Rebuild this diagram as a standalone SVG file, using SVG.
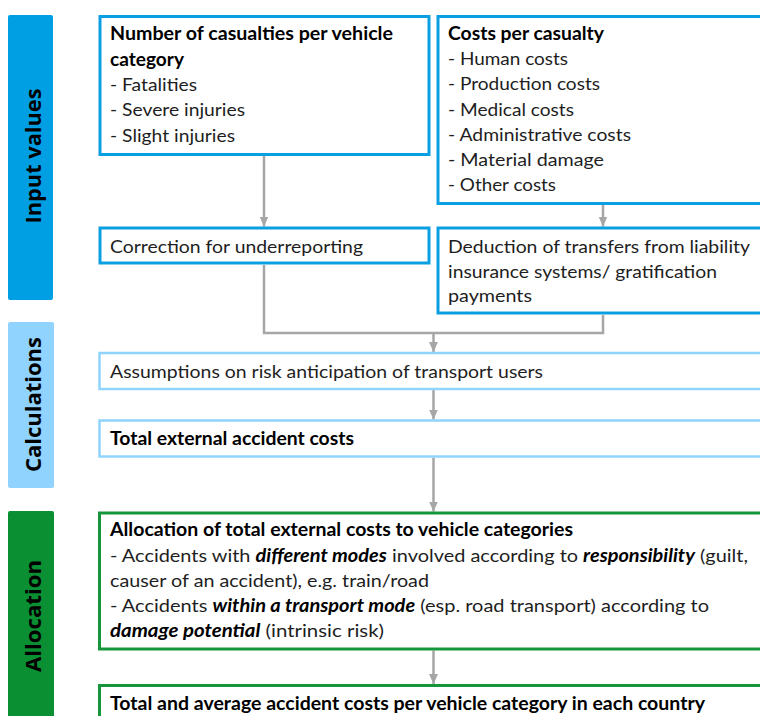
<svg xmlns="http://www.w3.org/2000/svg" width="760" height="716" viewBox="0 0 760 716">
<defs>
<marker id="ah" markerUnits="userSpaceOnUse" markerWidth="10" markerHeight="10" viewBox="0 0 10 10" refX="10" refY="5" orient="auto">
<path d="M0,0.5 L10,5 L0,9.5 Z" fill="#a6a6a6"/>
</marker>
<style>
.bar{font-family:"Open Sans","Lato",sans-serif;font-weight:700;font-size:21px;fill:#000}
.t{font-family:"Lato","Liberation Sans",sans-serif;font-size:18px;fill:#1e1e1e}
.b{font-weight:700;fill:#000}
.bi{font-weight:700;font-style:italic;fill:#000}
.top{fill:#fff;stroke:#0a9fe2;stroke-width:3}
.calc{fill:#fff;stroke:#8fd4fc;stroke-width:2.5}
.alloc{fill:#fff;stroke:#16963a;stroke-width:3}
.conn{fill:none;stroke:#a6a6a6;stroke-width:2.5}
</style>
</defs>
<rect width="760" height="716" fill="#fff"/>

<g id="bar-input">
<rect x="8" y="15" width="45" height="285" rx="2" fill="#009fe3"/>
<text class="bar" transform="translate(40.5,156) rotate(-90)" text-anchor="middle" textLength="135" lengthAdjust="spacingAndGlyphs">Input values</text>
</g>
<g id="bar-calc">
<rect x="8" y="322" width="46" height="166" rx="2" fill="#8fd3fe"/>
<text class="bar" transform="translate(40.5,404.5) rotate(-90)" text-anchor="middle" textLength="135" lengthAdjust="spacingAndGlyphs">Calculations</text>
</g>
<g id="bar-alloc">
<rect x="8" y="511" width="46" height="215" rx="2" fill="#0a8f32"/>
<text class="bar" transform="translate(40.5,616) rotate(-90)" text-anchor="middle" textLength="112" lengthAdjust="spacingAndGlyphs">Allocation</text>
</g>

<g id="connectors">
<line class="conn" x1="264" y1="156" x2="264" y2="226.5" marker-end="url(#ah)"/>
<line class="conn" x1="603" y1="205" x2="603" y2="226.5" marker-end="url(#ah)"/>
<polyline class="conn" points="264,265 264,333 603,333 603,315"/>
<line class="conn" x1="433.5" y1="333" x2="433.5" y2="352" marker-end="url(#ah)"/>
<line class="conn" x1="433.5" y1="390" x2="433.5" y2="419.5" marker-end="url(#ah)"/>
<line class="conn" x1="433.5" y1="457.5" x2="433.5" y2="511.5" marker-end="url(#ah)"/>
<line class="conn" x1="433.5" y1="650.5" x2="433.5" y2="684" marker-end="url(#ah)"/>
</g>

<g id="n-casualties">
<rect class="top" x="100" y="16.5" width="329" height="138"/>
<text class="t b" x="110" y="40" textLength="283" lengthAdjust="spacingAndGlyphs">Number of casualties per vehicle</text>
<text class="t b" x="110" y="65.5" textLength="74" lengthAdjust="spacingAndGlyphs">category</text>
<text class="t" x="110" y="91" textLength="87" lengthAdjust="spacingAndGlyphs">- Fatalities</text>
<text class="t" x="110" y="116" textLength="135" lengthAdjust="spacingAndGlyphs">- Severe injuries</text>
<text class="t" x="110" y="141.5" textLength="125" lengthAdjust="spacingAndGlyphs">- Slight injuries</text>
</g>

<g id="n-costs">
<rect class="top" x="438" y="16.5" width="340" height="187"/>
<text class="t b" x="448" y="40" textLength="156" lengthAdjust="spacingAndGlyphs">Costs per casualty</text>
<text class="t" x="448" y="65" textLength="120" lengthAdjust="spacingAndGlyphs">- Human costs</text>
<text class="t" x="448" y="90" textLength="152" lengthAdjust="spacingAndGlyphs">- Production costs</text>
<text class="t" x="448" y="115.5" textLength="126" lengthAdjust="spacingAndGlyphs">- Medical costs</text>
<text class="t" x="448" y="141" textLength="183" lengthAdjust="spacingAndGlyphs">- Administrative costs</text>
<text class="t" x="448" y="166" textLength="156" lengthAdjust="spacingAndGlyphs">- Material damage</text>
<text class="t" x="448" y="191" textLength="108" lengthAdjust="spacingAndGlyphs">- Other costs</text>
</g>

<g id="n-correction">
<rect class="top" x="100" y="228" width="329" height="35"/>
<text class="t" x="110" y="252.5" textLength="253" lengthAdjust="spacingAndGlyphs">Correction for underreporting</text>
</g>

<g id="n-deduction">
<rect class="top" x="438" y="228" width="340" height="85"/>
<text class="t" x="448" y="252.5" textLength="302" lengthAdjust="spacingAndGlyphs">Deduction of transfers from liability</text>
<text class="t" x="448" y="277.5" textLength="269" lengthAdjust="spacingAndGlyphs">insurance systems/ gratification</text>
<text class="t" x="448" y="302" textLength="84" lengthAdjust="spacingAndGlyphs">payments</text>
</g>

<g id="n-assumptions">
<rect class="calc" x="99.5" y="353" width="680" height="36"/>
<text class="t" x="110" y="377.5" textLength="433" lengthAdjust="spacingAndGlyphs">Assumptions on risk anticipation of transport users</text>
</g>

<g id="n-total">
<rect class="calc" x="99.5" y="420.5" width="680" height="36"/>
<text class="t b" x="110" y="445" textLength="244" lengthAdjust="spacingAndGlyphs">Total external accident costs</text>
</g>

<g id="n-allocation">
<rect class="alloc" x="99.5" y="513" width="680" height="136"/>
<text class="t b" x="110" y="535.5" textLength="463" lengthAdjust="spacingAndGlyphs">Allocation of total external costs to vehicle categories</text>
<text class="t" x="110" y="561.5" textLength="638" lengthAdjust="spacingAndGlyphs">- Accidents with <tspan class="bi">different modes</tspan> involved according to <tspan class="bi">responsibility</tspan> (guilt,</text>
<text class="t" x="110" y="586.5" textLength="319" lengthAdjust="spacingAndGlyphs">causer of an accident), e.g. train/road</text>
<text class="t" x="110" y="611.5" textLength="599" lengthAdjust="spacingAndGlyphs">- Accidents <tspan class="bi">within a transport mode</tspan> (esp. road transport) according to</text>
<text class="t" x="110" y="636.5" textLength="274" lengthAdjust="spacingAndGlyphs"><tspan class="bi">damage potential</tspan> (intrinsic risk)</text>
</g>

<g id="n-result">
<rect class="alloc" x="99.5" y="685.5" width="680" height="60"/>
<text class="t b" x="110" y="710" textLength="595" lengthAdjust="spacingAndGlyphs">Total and average accident costs per vehicle category in each country</text>
</g>
</svg>
